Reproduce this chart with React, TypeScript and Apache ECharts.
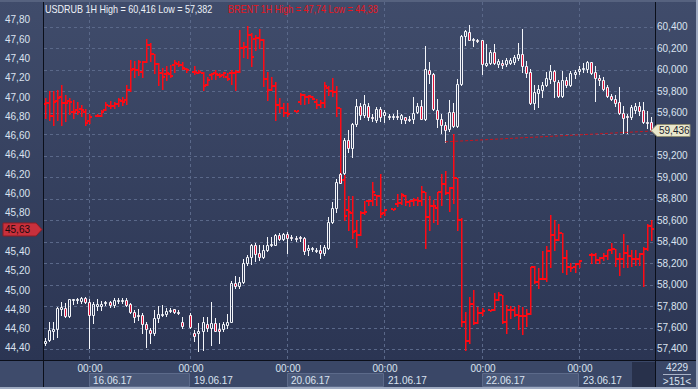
import React, { useEffect, useRef } from 'react';
import * as echarts from 'echarts';

// ---------- data ----------
// bar index 0 = 15.06 13:00 ... 150 = 23.06 18:00 (1H bars)
const dayStarts = [11, 36, 60, 84, 108, 132];
const dayLabels = ['16.06.17', '19.06.17', '20.06.17', '21.06.17', '22.06.17', '23.06.17'];
const timeLabel = '00:00';
const rightTicks = [57.4, 57.6, 57.8, 58.0, 58.2, 58.4, 58.6, 58.8, 59.0, 59.2, 59.4, 59.6, 59.8, 60.0, 60.2, 60.4];

const titleUsd = 'USDRUB 1H High = 60,416 Low = 57,382';
const titleBrent = 'BRENT 1H High = 47,74 Low = 44,38';
const usdLast = 59.436;
const brentLast = 45.63;
const infoTop = '4229';
const infoBottom = '>151<';

// USDRUB [open, close, low, high]
const usdrub: (number[] | null)[] = [
  [57.454, 57.479, 57.439, 57.501],
  [57.485, 57.578, 57.470, 57.656],
  [57.572, 57.584, 57.491, 57.656],
  [57.584, 57.780, 57.516, 57.795],
  [57.777, 57.789, 57.718, 57.842],
  [57.780, 57.709, 57.702, 57.826],
  [57.709, 57.864, 57.702, 57.870],
  [57.857, 57.864, 57.820, 57.870],
  [57.857, 57.867, 57.826, 57.873],
  [57.851, 57.876, 57.833, 57.888],
  [57.873, 57.842, 57.826, 57.888],
  [57.842, 57.718, 57.408, 57.864],
  [57.715, 57.817, 57.640, 57.842],
  [57.802, 57.817, 57.764, 57.864],
  [57.805, 57.823, 57.764, 57.851],
  [57.833, 57.839, 57.811, 57.851],
  [57.842, 57.811, 57.795, 57.851],
  [57.808, 57.854, 57.789, 57.873],
  [57.851, 57.857, 57.826, 57.879],
  [57.848, 57.857, 57.826, 57.879],
  [57.857, 57.811, 57.802, 57.873],
  [57.820, 57.740, 57.733, 57.833],
  [57.746, 57.702, 57.656, 57.764],
  [57.721, 57.715, 57.671, 57.770],
  [57.718, 57.634, 57.547, 57.733],
  [57.634, 57.584, 57.423, 57.656],
  [57.578, 57.547, 57.460, 57.594],
  [57.547, 57.687, 57.532, 57.764],
  [57.687, 57.727, 57.656, 57.802],
  [57.721, 57.730, 57.709, 57.811],
  [57.727, 57.758, 57.709, 57.780],
  [57.761, 57.767, 57.740, 57.780],
  [57.770, 57.749, 57.733, 57.777],
  [57.749, 57.743, 57.727, 57.764],
  [57.656, 57.616, 57.594, 57.702],
  null,
  [57.718, 57.603, 57.594, 57.733],
  [57.547, 57.522, 57.470, 57.578],
  [57.553, 57.572, 57.382, 57.640],
  [57.563, 57.656, 57.392, 57.702],
  [57.634, 57.594, 57.563, 57.696],
  [57.594, 57.640, 57.439, 57.842],
  [57.640, 57.572, 57.563, 57.687],
  [57.584, 57.563, 57.460, 57.640],
  [57.584, 57.634, 57.563, 57.647],
  [57.622, 57.656, 57.594, 57.727],
  [57.656, 58.019, 57.656, 58.038],
  [58.019, 57.988, 57.966, 58.081],
  [57.988, 58.028, 57.966, 58.075],
  [58.028, 58.198, 58.019, 58.236],
  [58.198, 58.260, 58.183, 58.276],
  [58.254, 58.366, 58.192, 58.378],
  [58.366, 58.285, 58.223, 58.384],
  [58.291, 58.254, 58.229, 58.366],
  [58.254, 58.322, 58.245, 58.369],
  [58.322, 58.366, 58.316, 58.440],
  [58.366, 58.375, 58.363, 58.440],
  [58.372, 58.462, 58.366, 58.471],
  [58.462, 58.428, 58.415, 58.477],
  [58.422, 58.468, 58.415, 58.477],
  [58.468, 58.437, 58.298, 58.487],
  [58.446, 58.434, 58.415, 58.462],
  [58.437, 58.431, 58.409, 58.452],
  [58.440, 58.431, 58.409, 58.452],
  [58.431, 58.316, 58.285, 58.446],
  [58.322, 58.341, 58.279, 58.369],
  [58.332, 58.338, 58.316, 58.353],
  [58.322, 58.325, 58.300, 58.345],
  [58.322, 58.291, 58.245, 58.366],
  [58.291, 58.347, 58.273, 58.366],
  [58.344, 58.583, 58.335, 58.632],
  [58.583, 58.710, 58.570, 58.769],
  [58.710, 58.955, 58.679, 58.980],
  [59.030, 58.949, 58.942, 59.042],
  [59.036, 59.346, 59.030, 59.361],
  [59.346, 59.268, 59.237, 59.439],
  [59.268, 59.495, 59.188, 59.501],
  [59.495, 59.662, 59.476, 59.733],
  [59.662, 59.578, 59.547, 59.687],
  [59.578, 59.681, 59.563, 59.764],
  [59.668, 59.557, 59.532, 59.687],
  [59.560, 59.550, 59.526, 59.588],
  [59.532, 59.640, 59.516, 59.650],
  [59.640, 59.563, 59.526, 59.650],
  [59.581, 59.606, 59.516, 59.625],
  [59.572, 59.566, 59.544, 59.588],
  [59.563, 59.575, 59.541, 59.588],
  [59.566, 59.560, 59.538, 59.625],
  [59.547, 59.578, 59.507, 59.588],
  [59.557, 59.532, 59.501, 59.563],
  [59.547, 59.538, 59.526, 59.569],
  [59.544, 59.600, 59.501, 59.749],
  [59.606, 59.662, 59.600, 59.687],
  [59.662, 59.544, 59.538, 59.718],
  [59.538, 60.012, 59.532, 60.220],
  [60.003, 59.960, 59.879, 60.074],
  [59.960, 59.640, 59.631, 59.972],
  [59.631, 59.544, 59.470, 59.733],
  [59.544, 59.485, 59.414, 59.588],
  [59.482, 59.439, 59.330, 59.516],
  [59.445, 59.606, 59.433, 59.724],
  [59.606, 59.476, 59.464, 59.687],
  [59.476, 59.873, 59.470, 59.919],
  [59.873, 60.313, 59.857, 60.326],
  [60.313, 60.363, 60.229, 60.375],
  [60.357, 60.282, 60.276, 60.416],
  [60.282, 60.285, 60.220, 60.301],
  [60.279, 60.276, 60.260, 60.291],
  [60.276, 60.059, 59.966, 60.282],
  [60.046, 60.065, 60.034, 60.239],
  [60.065, 60.167, 60.053, 60.183],
  [60.167, 60.065, 60.053, 60.245],
  [60.053, 60.084, 60.028, 60.105],
  [60.068, 60.046, 60.015, 60.090],
  [60.059, 60.090, 60.034, 60.115],
  [60.065, 60.096, 60.053, 60.115],
  [60.071, 60.121, 60.059, 60.136],
  [60.115, 60.152, 60.096, 60.251],
  [60.152, 60.034, 59.981, 60.384],
  [60.034, 59.972, 59.935, 60.084],
  [59.981, 59.687, 59.681, 60.012],
  [59.687, 59.792, 59.640, 59.857],
  [59.786, 59.820, 59.656, 59.857],
  [59.817, 59.857, 59.749, 59.888],
  [59.857, 59.929, 59.848, 59.981],
  [59.919, 59.991, 59.879, 60.043],
  [59.991, 59.898, 59.743, 59.997],
  [59.888, 59.755, 59.749, 59.910],
  [59.755, 59.904, 59.749, 59.991],
  [59.904, 59.860, 59.836, 59.935],
  [59.863, 59.972, 59.854, 59.991],
  [59.960, 59.981, 59.929, 59.997],
  [59.991, 60.012, 59.966, 60.034],
  [60.012, 60.022, 59.981, 60.065],
  [60.012, 60.071, 59.981, 60.084],
  [60.071, 59.972, 59.966, 60.077],
  [59.978, 59.929, 59.712, 60.034],
  [59.929, 59.910, 59.857, 59.950],
  [59.910, 59.823, 59.817, 59.935],
  [59.836, 59.755, 59.743, 59.857],
  [59.761, 59.730, 59.718, 59.780],
  [59.733, 59.693, 59.662, 59.764],
  [59.699, 59.594, 59.588, 59.842],
  [59.600, 59.553, 59.414, 59.662],
  [59.569, 59.560, 59.408, 59.588],
  [59.563, 59.650, 59.547, 59.671],
  [59.631, 59.662, 59.600, 59.687],
  [59.662, 59.619, 59.582, 59.702],
  [59.625, 59.516, 59.507, 59.702],
  [59.519, 59.513, 59.460, 59.619],
  [59.513, 59.436, 59.430, 59.557],
];

// BRENT [open, close, low, high]
const brent: (number[] | null)[] = [
  [46.93, 46.94, 46.78, 46.99],
  [46.94, 46.80, 46.76, 47.06],
  [46.80, 46.95, 46.71, 47.06],
  [46.96, 46.99, 46.76, 47.07],
  [47.00, 46.94, 46.71, 47.13],
  [46.94, 46.94, 46.75, 47.02],
  [46.96, 46.95, 46.83, 46.99],
  [46.85, 46.85, 46.78, 46.97],
  [46.87, 46.85, 46.82, 46.95],
  [46.88, 46.87, 46.80, 46.92],
  [46.85, 46.73, 46.71, 46.88],
  [46.75, 46.79, 46.73, 46.82],
  null,
  [46.80, 46.80, 46.80, 46.82],
  [46.80, 46.85, 46.80, 46.87],
  [46.87, 46.92, 46.87, 46.95],
  [46.91, 46.91, 46.89, 46.96],
  [46.91, 46.93, 46.89, 46.95],
  [46.93, 46.97, 46.91, 46.99],
  [46.96, 46.95, 46.92, 47.00],
  [46.97, 47.07, 46.93, 47.13],
  [47.07, 47.28, 47.06, 47.38],
  [47.29, 47.28, 47.21, 47.37],
  [47.28, 47.36, 47.23, 47.38],
  [47.26, 47.36, 47.21, 47.37],
  [47.36, 47.54, 47.36, 47.60],
  [47.54, 47.45, 47.37, 47.56],
  [47.45, 47.34, 47.25, 47.45],
  [47.34, 47.25, 47.13, 47.35],
  [47.25, 47.21, 47.08, 47.30],
  [47.24, 47.25, 47.18, 47.32],
  [47.24, 47.22, 47.21, 47.33],
  [47.33, 47.35, 47.26, 47.38],
  [47.34, 47.33, 47.32, 47.37],
  [47.33, 47.30, 47.29, 47.36],
  [47.29, 47.28, 47.26, 47.30],
  null,
  [47.26, 47.26, 47.24, 47.32],
  [47.25, 47.26, 47.25, 47.28],
  [47.25, 47.11, 47.07, 47.26],
  [47.13, 47.18, 47.13, 47.21],
  [47.23, 47.24, 47.19, 47.25],
  [47.25, 47.24, 47.19, 47.28],
  [47.23, 47.22, 47.21, 47.25],
  [47.23, 47.25, 47.21, 47.26],
  [47.21, 47.19, 47.18, 47.25],
  [47.25, 47.25, 47.14, 47.28],
  [47.25, 47.26, 47.07, 47.28],
  [47.26, 47.51, 47.26, 47.70],
  [47.51, 47.52, 47.42, 47.57],
  [47.52, 47.64, 47.40, 47.74],
  [47.64, 47.42, 47.32, 47.66],
  [47.60, 47.61, 47.49, 47.64],
  [47.61, 47.59, 47.51, 47.71],
  [47.59, 47.19, 47.11, 47.60],
  [47.19, 47.07, 46.97, 47.26],
  [47.07, 47.12, 47.07, 47.21],
  [47.12, 46.92, 46.76, 47.16],
  [46.92, 46.89, 46.85, 46.99],
  [46.89, 46.84, 46.80, 46.94],
  [46.84, 46.83, 46.80, 46.94],
  null,
  [46.86, 46.86, 46.86, 46.86],
  [46.95, 47.02, 46.93, 47.04],
  [47.02, 47.00, 46.93, 47.03],
  [47.00, 47.01, 46.94, 47.02],
  [47.00, 46.98, 46.98, 47.01],
  [46.95, 46.92, 46.89, 46.98],
  [46.92, 46.94, 46.90, 46.97],
  [46.94, 47.11, 46.90, 47.16],
  [47.09, 47.06, 47.02, 47.12],
  [47.06, 47.05, 47.01, 47.20],
  [47.05, 46.89, 46.80, 47.12],
  [46.89, 46.14, 46.11, 46.89],
  [46.14, 45.77, 45.73, 46.19],
  [45.83, 45.81, 45.62, 45.97],
  [45.80, 45.60, 45.54, 45.97],
  [45.61, 45.57, 45.45, 45.73],
  [45.57, 45.80, 45.57, 45.82],
  [45.80, 45.81, 45.79, 45.92],
  [45.92, 45.92, 45.88, 45.93],
  [45.92, 46.02, 45.88, 46.12],
  [45.99, 45.98, 45.88, 45.99],
  [45.98, 45.79, 45.76, 46.20],
  [45.80, 45.83, 45.78, 45.84],
  null,
  [45.84, 45.84, 45.84, 45.84],
  [45.89, 45.90, 45.87, 46.00],
  [45.90, 45.99, 45.89, 46.01],
  [45.98, 45.91, 45.88, 45.99],
  [45.91, 45.92, 45.87, 45.93],
  [45.92, 45.93, 45.88, 45.95],
  [45.93, 45.92, 45.88, 45.96],
  [45.92, 46.02, 45.88, 46.08],
  [46.02, 45.76, 45.44, 46.02],
  [45.76, 45.87, 45.62, 45.97],
  [45.87, 45.87, 45.71, 45.93],
  [45.85, 46.02, 45.69, 46.02],
  [46.02, 46.10, 45.88, 46.20],
  [46.10, 46.01, 46.00, 46.23],
  [46.01, 46.06, 45.82, 46.07],
  [46.06, 46.16, 45.90, 46.62],
  [46.16, 45.73, 45.62, 46.16],
  [45.73, 44.67, 44.63, 45.75],
  [44.67, 44.47, 44.38, 44.77],
  [44.47, 44.86, 44.45, 44.93],
  [44.86, 44.66, 44.65, 45.00],
  [44.66, 44.76, 44.66, 44.83],
  [44.76, 44.78, 44.74, 44.81],
  null,
  [44.79, 44.79, 44.79, 44.79],
  [44.79, 44.90, 44.79, 44.97],
  [44.90, 44.95, 44.90, 44.98],
  [44.95, 44.67, 44.66, 44.95],
  [44.67, 44.79, 44.56, 44.85],
  [44.79, 44.79, 44.71, 44.84],
  [44.79, 44.74, 44.73, 44.82],
  [44.74, 44.73, 44.60, 44.85],
  [44.73, 44.73, 44.54, 44.82],
  [44.73, 44.75, 44.63, 44.80],
  [44.75, 45.24, 44.75, 45.24],
  [45.24, 45.08, 45.07, 45.25],
  [45.08, 45.12, 45.02, 45.23],
  [45.12, 45.12, 45.12, 45.40],
  [45.12, 45.41, 45.09, 45.46],
  [45.41, 45.57, 45.24, 45.78],
  [45.57, 45.52, 45.42, 45.73],
  [45.52, 45.59, 45.52, 45.68],
  [45.59, 45.33, 45.19, 45.59],
  [45.33, 45.24, 45.17, 45.42],
  [45.24, 45.23, 45.20, 45.28],
  [45.24, 45.27, 45.19, 45.28],
  [45.27, 45.30, 45.24, 45.31],
  null,
  null,
  [45.36, 45.36, 45.28, 45.38],
  [45.36, 45.31, 45.28, 45.38],
  [45.31, 45.33, 45.28, 45.34],
  [45.33, 45.35, 45.31, 45.38],
  [45.35, 45.42, 45.32, 45.42],
  [45.42, 45.43, 45.38, 45.49],
  [45.43, 45.32, 45.25, 45.43],
  [45.32, 45.32, 45.16, 45.38],
  [45.32, 45.38, 45.24, 45.58],
  [45.38, 45.35, 45.24, 45.47],
  [45.35, 45.32, 45.25, 45.42],
  [45.32, 45.32, 45.26, 45.42],
  [45.32, 45.37, 45.26, 45.38],
  [45.37, 45.43, 45.04, 45.45],
  [45.43, 45.66, 45.42, 45.68],
  [45.66, 45.63, 45.52, 45.73],
];

// user trend line on USDRUB [barIndex, value]
const trendLine = [[99, 59.33], [151, 59.432]];

// ---------- styles ----------
const FONT = "'Liberation Sans', Arial, sans-serif";
const FS = 10;
const LABEL = '#dbe3f0';
const WHITE = '#f4f6fa';
const RED = '#ff0a14';
const DOWN_FILL = '#e3143a';

function renderCandle(params: any, api: any) {
  const i = api.value(0);
  const o = api.value(1), c = api.value(2), l = api.value(3), h = api.value(4);
  const pO = api.coord([i, o]);
  const x = Math.round(pO[0]);
  const yO = pO[1];
  const yC = api.coord([i, c])[1];
  const yL = Math.round(api.coord([i, l])[1]);
  const yH = Math.round(api.coord([i, h])[1]);
  const top = Math.round(Math.min(yO, yC));
  const bh = Math.max(Math.round(Math.max(yO, yC)) - top, 1);
  const up = c >= o;
  const children: any[] = [];
  if (yH < top) children.push({ type: 'line', shape: { x1: x + 0.5, y1: yH, x2: x + 0.5, y2: top }, style: { stroke: WHITE, lineWidth: 1 } });
  if (yL > top + bh) children.push({ type: 'line', shape: { x1: x + 0.5, y1: top + bh + 1, x2: x + 0.5, y2: yL + 1 }, style: { stroke: WHITE, lineWidth: 1 } });
  children.push({ type: 'rect', shape: { x: x - 0.5, y: top + 0.5, width: 2, height: bh }, style: { fill: up ? 'rgba(0,0,0,0)' : DOWN_FILL, stroke: WHITE, lineWidth: 1 } });
  return { type: 'group', children };
}

function renderBar(params: any, api: any) {
  const i = api.value(0);
  const o = api.value(1), c = api.value(2), l = api.value(3), h = api.value(4);
  const pO = api.coord([i, o]);
  const x = Math.round(pO[0]);
  const yO = Math.round(pO[1]);
  const yC = Math.round(api.coord([i, c])[1]);
  const yL = Math.round(api.coord([i, l])[1]);
  const yH = Math.round(api.coord([i, h])[1]);
  return {
    type: 'group',
    children: [
      { type: 'rect', shape: { x: x, y: yH, width: 1.5, height: Math.max(yL - yH + 1, 2) }, style: { fill: RED } },
      { type: 'rect', shape: { x: x - 2, y: yO - 1, width: 2, height: 2 }, style: { fill: RED } },
      { type: 'rect', shape: { x: x + 1, y: yC - 1, width: 2, height: 2 }, style: { fill: RED } },
    ],
  };
}

function txt(x: number, y: number, text: string, fill: string, align = 'left', z = 12, scaleX = 1) {
  return {
    type: 'text', x, y, z, scaleX, silent: true,
    style: { text, fill, fontSize: FS, fontFamily: FONT, align, verticalAlign: 'middle', textAlign: align, textVerticalAlign: 'middle' },
  };
}

export default function App() {
  const ref = useRef<HTMLDivElement>(null);
  useEffect(() => {
    const el = ref.current!;
    const chart = echarts.init(el, undefined, { renderer: 'svg' });
    const usdData = usdrub.map((d, i) => (d ? [i, ...d] : null)).filter(Boolean);
    const brentData = brent.map((d, i) => (d ? [i, ...d] : null)).filter(Boolean);
    chart.setOption({
      animation: false,
      backgroundColor: 'transparent',
      grid: { left: 44, right: 43, top: 16, bottom: 29 },
      xAxis: { type: 'value', min: -0.2, max: 150.9, show: false },
      yAxis: [
        {
          type: 'value', position: 'left', min: 44.2756, max: 47.8404, splitNumber: 18, z: 5,
          axisLine: { show: false }, axisTick: { show: false }, splitLine: { show: false },
          axisLabel: {
            margin: 39, align: 'left', color: LABEL, fontSize: FS, fontFamily: FONT,
            showMinLabel: false, showMaxLabel: false,
            // the label under the last-price tag is hidden, as in the reference
            formatter: (v: number) => (Math.abs(v - brentLast) < 0.1 ? '' : v.toFixed(2).replace('.', ',')),
          },
        },
        {
          type: 'value', position: 'right', min: 57.2975, max: 60.502, splitNumber: 16, z: 5,
          axisLine: { show: false }, axisTick: { show: false }, splitLine: { show: false },
          axisLabel: {
            margin: 2, align: 'left', color: LABEL, fontSize: FS, fontFamily: FONT,
            showMinLabel: false, showMaxLabel: false,
            formatter: (v: number) => (Math.abs(v - usdLast) < 0.1 ? '' : v.toFixed(3).replace('.', ',')),
          },
        },
      ],
      series: [
        { type: 'custom', name: 'BRENT', yAxisIndex: 0, z: 3, renderItem: renderBar, data: brentData, encode: { x: 0, y: [1, 2, 3, 4] }, silent: true },
        { type: 'custom', name: 'USDRUB', yAxisIndex: 1, z: 4, renderItem: renderCandle, data: usdData, encode: { x: 0, y: [1, 2, 3, 4] }, silent: true },
        { type: 'line', name: 'trend', yAxisIndex: 1, z: 5, data: trendLine, symbol: 'none', silent: true, lineStyle: { color: '#c8141e', width: 1, type: [3, 2] } },
      ],
    });

    const px = (i: number) => chart.convertToPixel({ xAxisIndex: 0 }, i) as unknown as number;
    const pyR = (v: number) => chart.convertToPixel({ yAxisIndex: 1 }, v) as unknown as number;
    const pyL = (v: number) => chart.convertToPixel({ yAxisIndex: 0 }, v) as unknown as number;

    const grad = new echarts.graphic.LinearGradient(0, 0, 0, 1, [
      { offset: 0, color: '#404c6b' },
      { offset: 1, color: '#2b3553' },
    ]);
    const els: any[] = [];
    els.push({ type: 'rect', z: 0, silent: true, shape: { x: 0, y: 0, width: 698, height: 389 }, style: { fill: '#2e3856' } });
    els.push({ type: 'rect', z: 0, silent: true, shape: { x: 0, y: 0, width: 698, height: 360 }, style: { fill: grad } });
    // grid lines
    rightTicks.forEach((v) => {
      const y = Math.round(pyR(v)) + 0.5;
      els.push({ type: 'line', z: 1, silent: true, shape: { x1: 44, y1: y, x2: 655, y2: y }, style: { stroke: '#5a6889', lineWidth: 1, lineDash: [3, 3] } });
    });
    const gx = dayStarts.map((i) => Math.round(px(i)));
    gx.forEach((x) => {
      els.push({ type: 'line', z: 1, silent: true, shape: { x1: x + 0.5, y1: 2, x2: x + 0.5, y2: 360 }, style: { stroke: '#5a6889', lineWidth: 1, lineDash: [3, 3] } });
    });
    // bottom time strip
    els.push({ type: 'rect', z: 10, silent: true, shape: { x: 0, y: 361, width: 698, height: 28 }, style: { fill: '#3a4767' } });
    els.push({ type: 'rect', z: 10, silent: true, shape: { x: 0, y: 361, width: 43, height: 26 }, style: { fill: '#3e4b6b' } });
    const ends = [...gx, Math.round(px(150.9)) - 24];
    dayLabels.forEach((d, k) => {
      const x0 = gx[k];
      const x1 = k + 1 < ends.length ? ends[k + 1] : x0 + 50;
      if (k % 2 === 0) {
        els.push({ type: 'rect', z: 11, silent: true, shape: { x: x0 + 0.5, y: 373.5, width: x1 - x0 - 1, height: 13 }, style: { fill: '#4a5878', stroke: '#5c6a8a', lineWidth: 1 } });
      }
      els.push(txt(x0 + 4, 380.5, d, LABEL));
      els.push(txt(x0 + 1, 368, timeLabel, LABEL, 'center'));
    });
    els.push({ type: 'rect', z: 11, silent: true, shape: { x: 632, y: 362, width: 23, height: 25 }, style: { fill: '#28314b' } });
    // info panel
    els.push(txt(677, 367, infoTop, LABEL, 'center'));
    els.push({ type: 'line', z: 12, silent: true, shape: { x1: 663, y1: 374.5, x2: 691, y2: 374.5 }, style: { stroke: '#aab4c8', lineWidth: 1 } });
    els.push(txt(677, 381, infoBottom, LABEL, 'center'));
    // separators
    els.push({ type: 'line', z: 13, silent: true, shape: { x1: 43.5, y1: 0, x2: 43.5, y2: 387 }, style: { stroke: '#0b0f1a', lineWidth: 1 } });
    els.push({ type: 'line', z: 13, silent: true, shape: { x1: 655.5, y1: 0, x2: 655.5, y2: 387 }, style: { stroke: '#0b0f1a', lineWidth: 1 } });
    els.push({ type: 'line', z: 13, silent: true, shape: { x1: 0, y1: 360.5, x2: 698, y2: 360.5 }, style: { stroke: '#0b0f1a', lineWidth: 1 } });
    // frame
    els.push({ type: 'rect', z: 14, silent: true, shape: { x: 0, y: 0, width: 698, height: 2 }, style: { fill: '#56627f' } });
    els.push({ type: 'rect', z: 14, silent: true, shape: { x: 0, y: 387, width: 698, height: 2 }, style: { fill: '#9fabc2' } });
    els.push({ type: 'rect', z: 14, silent: true, shape: { x: 696, y: 0, width: 2, height: 389 }, style: { fill: '#9fabc2' } });
    // titles
    els.push(txt(45, 9, titleUsd, '#eef2f8', 'left', 12, 0.9));
    els.push(txt(228, 9, titleBrent, '#e8141c', 'left', 12, 0.9));
    // right price tag
    const yt = Math.round(pyR(usdLast)) + 0.5;
    els.push({ type: 'polygon', z: 15, silent: true, shape: { points: [[651, yt], [657, yt - 6], [690, yt - 6], [690, yt + 6], [657, yt + 6]] }, style: { fill: '#e9e7cb', stroke: '#8f8d74', lineWidth: 1 } });
    els.push(txt(659, yt, usdLast.toFixed(3).replace('.', ','), '#1c2230', 'left', 16));
    // left price tag
    const yb = Math.round(pyL(brentLast)) + 0.5;
    els.push({ type: 'polygon', z: 15, silent: true, shape: { points: [[3, yb - 6.5], [36, yb - 6.5], [42, yb], [36, yb + 6.5], [3, yb + 6.5]] }, style: { fill: '#c9303c', stroke: '#8a1c24', lineWidth: 1 } });
    els.push(txt(5, yb, brentLast.toFixed(2).replace('.', ','), '#1a0a0c', 'left', 16));

    chart.setOption({ graphic: { elements: els } });
    return () => chart.dispose();
  }, []);
  return <div ref={ref} style={{ position: 'absolute', left: 0, top: 0, width: 698, height: 389 }} />;
}
